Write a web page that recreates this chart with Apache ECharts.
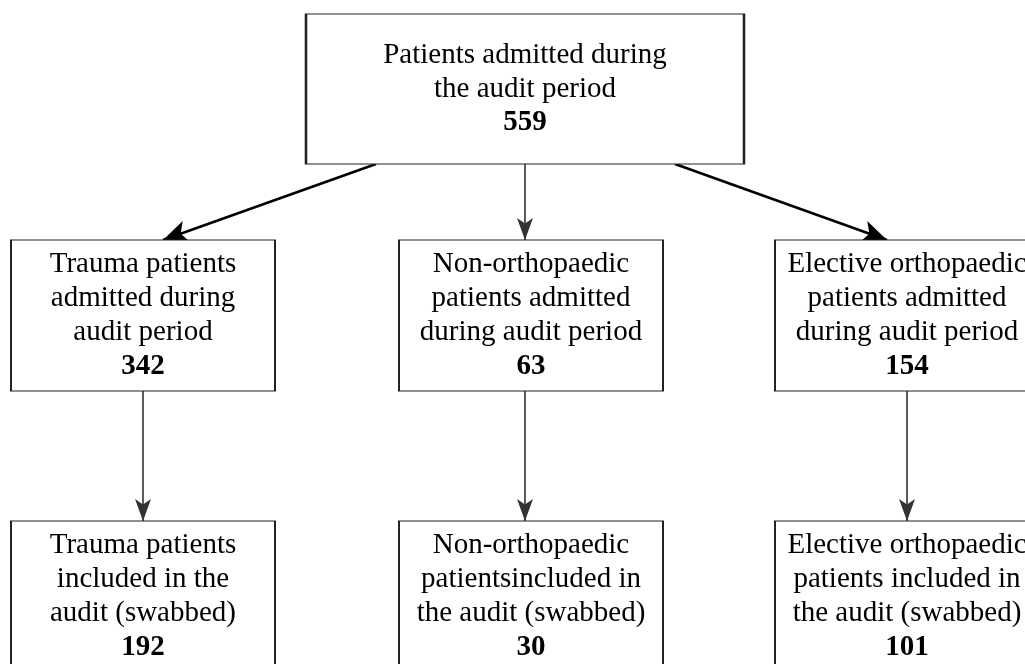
<!DOCTYPE html>
<html>
<head>
<meta charset="utf-8">
<script src="https://cdn.jsdelivr.net/npm/echarts@6/dist/echarts.min.js"></script>
<style>
html,body{margin:0;padding:0;background:#fff;}
#c{width:1025px;height:664px;}
</style>
</head>
<body>
<div id="c"></div>
<script>
// ---- data ----
const boxTexts = [
  "Patients admitted during\nthe audit period",
  "Trauma patients\nadmitted during\naudit period",
  "Non-orthopaedic\npatients admitted\nduring audit period",
  "Elective orthopaedic\npatients admitted\nduring audit period",
  "Trauma patients\nincluded in the\naudit (swabbed)",
  "Non-orthopaedic\npatientsincluded in\nthe audit (swabbed)",
  "Elective orthopaedic\npatients included in\nthe audit (swabbed)"
];
const boxCounts = [559, 342, 63, 154, 192, 30, 101];
const linkFrom = [0, 0, 0, 1, 2, 3];
const linkTo   = [1, 2, 3, 4, 5, 6];

// ---- layout (pixels) ----
const boxCX = [525, 143, 531, 907, 143, 531, 907];
const boxCY = [89, 315.5, 315.5, 315.5, 596.5, 596.5, 596.5];
const boxW  = [438, 264, 264, 264, 264, 264, 264];
const boxH  = [150, 151, 151, 151, 151, 151, 151];
const linkStartX = [376, 525, 675, 143, 525, 907];
const linkEndX   = [163, 525, 887, 143, 525, 907];

const chart = echarts.init(document.getElementById('c'), null, {renderer: 'canvas'});

const boxData = boxTexts.map((t, i) => ({
  value: [boxCX[i], boxCY[i]],
  symbolSize: [boxW[i], boxH[i]],
  text: t,
  count: boxCounts[i]
}));

const linkData = linkFrom.map((f, k) => {
  const t = linkTo[k];
  const y1 = boxCY[f] + boxH[f] / 2;
  const y2 = boxCY[t] - boxH[t] / 2;
  const diag = linkStartX[k] !== linkEndX[k];
  return {
    coords: [[linkStartX[k], y1], [linkEndX[k], y2]],
    symbolSize: diag ? [0, [17, 25]] : [0, [12, 22]],
    lineStyle: diag ? {width: 2.6, color: '#000', opacity: 1} : {width: 1.6, color: '#333', opacity: 1}
  };
});

const font = '"Liberation Serif", "Times New Roman", serif';

chart.setOption({
  backgroundColor: '#fff',
  animation: false,
  grid: {left: 0, right: 0, top: 0, bottom: 0},
  xAxis: {type: 'value', min: 0, max: 1025, show: false},
  yAxis: {type: 'value', min: 0, max: 664, inverse: true, show: false},
  series: [
    {
      type: 'lines',
      coordinateSystem: 'cartesian2d',
      symbol: ['none', 'arrow'],
      z: 1,
      lineStyle: {opacity: 1},
      itemStyle: {opacity: 1},
      emphasis: {disabled: true},
      data: linkData
    },
    {
      type: 'scatter',
      symbol: 'rect',
      clip: false,
      z: 2,
      itemStyle: {color: '#fff', borderColor: '#222', borderWidth: 1.5, opacity: 1},
      label: {
        show: true,
        position: 'inside',
        color: '#000',
        fontFamily: font,
        fontSize: 29,
        lineHeight: 34,
        align: 'center',
        formatter: p => p.data.text + '\n{b|' + p.data.count + '}',
        rich: {
          b: {fontFamily: font, fontSize: 29, lineHeight: 34, fontWeight: 'bold', color: '#000'}
        }
      },
      emphasis: {disabled: true},
      data: boxData
    }
  ]
});
</script>
</body>
</html>
